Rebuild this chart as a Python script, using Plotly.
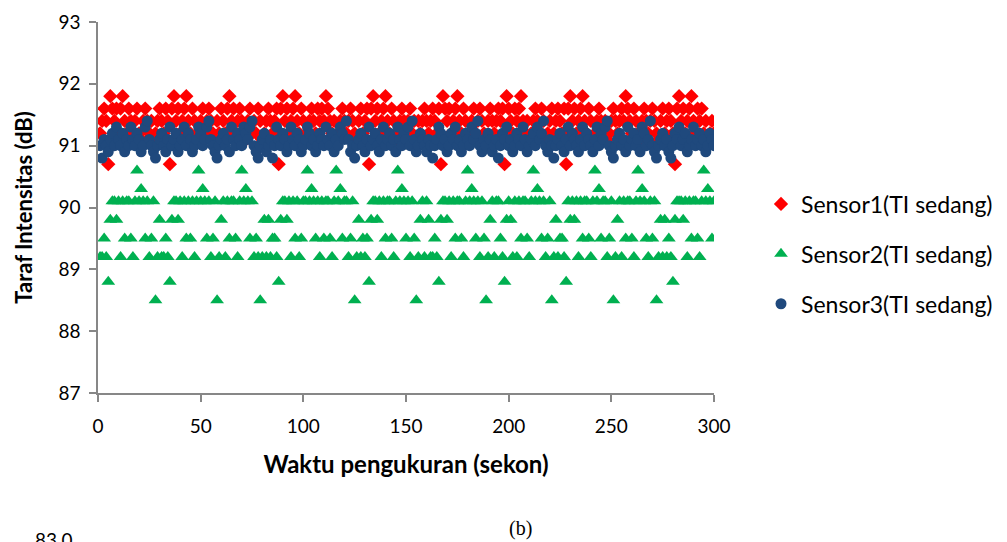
import plotly.graph_objects as go

# Measurement time (seconds)
waktu = list(range(1, 301))

# Sensor1 (TI sedang) readings, dB
sensor1 = [
    91.2, 91.4, 91.6, 91.4, 90.7, 91.8, 91.6, 91.4, 91.6, 91.2, 91.6, 91.8, 91.4, 91.2, 91.6, 91.4, 91.2, 91.4, 91.6, 91.2, 91.1, 91.4, 91.6, 91.4, 91.2, 91.4, 91.1, 91.2, 91.4, 91.6,
    91.4, 91.2, 91.6, 91.4, 90.7, 91.6, 91.8, 91.4, 91.6, 91.2, 91.4, 91.6, 91.8, 91.4, 91.2, 91.6, 91.4, 91.1, 91.2, 91.4, 91.6, 91.2, 91.4, 91.6, 91.4, 91.2, 91.1, 91.4, 91.2, 91.6,
    91.4, 91.2, 91.6, 91.8, 91.4, 91.6, 91.2, 91.4, 91.6, 91.4, 91.2, 91.1, 91.4, 91.6, 91.2, 91.4, 91.2, 91.6, 91.4, 91.1, 91.2, 91.4, 91.6, 91.4, 91.2, 91.4, 91.6, 90.7, 91.6, 91.8,
    91.4, 91.6, 91.2, 91.4, 91.6, 91.8, 91.4, 91.2, 91.6, 91.4, 91.1, 91.2, 91.4, 91.6, 91.4, 91.2, 91.6, 91.4, 91.6, 91.4, 91.8, 91.6, 91.4, 91.2, 91.4, 91.1, 91.2, 91.4, 91.6, 91.4,
    91.2, 91.4, 91.6, 91.4, 91.2, 91.1, 91.4, 91.6, 91.2, 91.4, 91.6, 90.7, 91.6, 91.8, 91.4, 91.6, 91.2, 91.4, 91.6, 91.8, 91.4, 91.2, 91.6, 91.4, 91.1, 91.2, 91.4, 91.6, 91.4, 91.2,
    91.4, 91.6, 91.2, 91.4, 91.1, 91.4, 91.2, 91.4, 91.6, 91.4, 91.2, 91.4, 91.6, 91.4, 91.2, 91.6, 90.7, 91.8, 91.6, 91.4, 91.6, 91.2, 91.4, 91.6, 91.8, 91.4, 91.2, 91.6, 91.4, 91.1,
    91.2, 91.4, 91.6, 91.2, 91.4, 91.6, 91.4, 91.2, 91.1, 91.4, 91.6, 91.4, 91.2, 91.4, 91.6, 91.4, 91.6, 90.7, 91.8, 91.6, 91.4, 91.2, 91.6, 91.4, 91.6, 91.8, 91.4, 91.2, 91.4, 91.1,
    91.2, 91.4, 91.6, 91.4, 91.2, 91.6, 91.4, 91.1, 91.2, 91.4, 91.6, 91.2, 91.4, 91.6, 91.4, 91.2, 91.6, 90.7, 91.6, 91.8, 91.4, 91.6, 91.2, 91.4, 91.6, 91.8, 91.4, 91.2, 91.6, 91.4,
    91.1, 91.2, 91.4, 91.6, 91.4, 91.2, 91.4, 91.1, 91.2, 91.4, 91.6, 91.4, 91.2, 91.4, 91.6, 91.4, 91.8, 91.6, 91.4, 91.2, 91.6, 91.4, 91.2, 91.1, 91.4, 91.6, 91.4, 91.2, 91.4, 91.6,
    91.4, 91.2, 91.1, 91.4, 91.6, 91.2, 91.4, 91.6, 91.4, 91.2, 90.7, 91.6, 91.8, 91.4, 91.6, 91.2, 91.4, 91.6, 91.8, 91.4, 91.2, 91.6, 91.4, 91.6, 91.2, 91.4, 91.1, 91.2, 91.4, 91.2,
]

# Sensor2 (TI sedang) readings, dB
sensor2 = [
    89.2, 89.2, 89.5, 89.2, 88.8, 89.8, 90.1, 90.1, 89.8, 90.1, 89.2, 90.1, 89.5, 90.1, 90.1, 89.5, 89.2, 90.1, 90.6, 90.1, 90.3, 90.1, 89.5, 90.1, 89.2, 89.5, 90.1, 88.5, 89.2, 89.8,
    89.2, 89.2, 89.5, 89.2, 88.8, 89.8, 90.1, 90.1, 89.8, 90.1, 89.2, 90.1, 89.5, 90.1, 89.5, 90.1, 89.2, 90.1, 90.6, 90.1, 90.3, 90.1, 89.5, 90.1, 89.2, 89.5, 90.1, 88.5, 89.2, 89.8,
    90.1, 89.2, 90.1, 89.5, 90.1, 90.1, 89.5, 89.2, 90.1, 90.6, 90.1, 90.3, 90.1, 89.5, 90.1, 89.2, 89.5, 89.2, 88.5, 89.2, 89.8, 89.2, 89.8, 89.2, 89.5, 89.5, 89.2, 88.8, 89.8, 90.1,
    90.1, 89.8, 90.1, 89.2, 90.1, 89.5, 90.1, 89.2, 89.5, 90.1, 90.1, 90.6, 90.1, 90.3, 90.1, 89.5, 90.1, 89.2, 90.1, 89.5, 90.1, 90.1, 89.5, 89.2, 90.1, 90.6, 90.1, 90.3, 89.5, 90.1,
    90.1, 89.2, 89.5, 90.1, 88.5, 89.2, 89.8, 89.2, 89.5, 89.2, 89.5, 88.8, 89.8, 90.1, 90.1, 89.8, 90.1, 89.2, 90.1, 89.5, 90.1, 90.1, 89.5, 89.2, 90.1, 90.6, 90.1, 90.3, 90.1, 89.5,
    90.1, 89.2, 90.1, 89.5, 88.5, 89.2, 89.8, 90.1, 89.2, 90.1, 89.8, 89.2, 89.2, 89.5, 89.2, 88.8, 89.8, 90.1, 90.1, 89.8, 90.1, 89.2, 90.1, 89.5, 90.1, 90.1, 89.5, 89.2, 90.1, 90.6,
    90.1, 90.3, 90.1, 89.5, 90.1, 89.2, 90.1, 89.5, 88.5, 89.2, 89.8, 90.1, 89.2, 90.1, 90.1, 89.5, 89.2, 88.8, 89.8, 90.1, 89.8, 89.2, 90.1, 89.2, 90.1, 89.5, 90.1, 90.1, 89.5, 89.2,
    90.1, 90.6, 90.1, 90.3, 90.1, 89.5, 90.1, 89.2, 89.5, 90.1, 88.5, 89.2, 89.8, 89.2, 89.5, 89.5, 89.2, 88.8, 90.1, 89.8, 90.1, 89.8, 90.1, 89.2, 90.1, 89.5, 90.1, 90.1, 89.5, 89.2,
    90.1, 90.6, 90.1, 90.3, 89.5, 90.1, 90.1, 89.2, 89.5, 90.1, 88.5, 89.2, 89.8, 90.1, 89.2, 90.1, 89.5, 90.1, 90.1, 89.5, 89.2, 90.1, 90.6, 90.1, 90.3, 90.1, 89.5, 89.2, 90.1, 89.5,
    90.1, 88.5, 89.2, 89.8, 89.2, 89.8, 89.2, 89.5, 89.2, 88.8, 89.8, 90.1, 90.1, 90.1, 89.8, 90.1, 89.2, 90.1, 89.5, 90.1, 90.1, 89.5, 89.2, 90.1, 90.6, 90.1, 90.3, 90.1, 89.5, 90.1,
]

# Sensor3 (TI sedang) readings, dB
sensor3 = [
    91.0, 90.8, 91.1, 91.0, 90.9, 91.1, 91.2, 91.0, 91.3, 91.1, 91.0, 91.2, 90.9, 91.1, 91.0, 91.3, 91.1, 91.0, 91.2, 91.1, 90.9, 91.0, 91.3, 91.4, 91.1, 91.0, 90.9, 90.8, 91.0, 91.1,
    91.2, 91.0, 90.9, 91.1, 91.3, 91.0, 91.1, 91.2, 90.9, 91.0, 91.1, 91.3, 91.0, 91.2, 91.1, 90.9, 91.0, 91.1, 91.3, 91.2, 91.0, 91.1, 91.3, 91.4, 91.1, 91.0, 90.9, 90.8, 91.0, 91.1,
    91.2, 91.0, 91.1, 90.9, 91.3, 91.1, 91.0, 91.2, 91.1, 91.0, 91.3, 91.2, 91.1, 91.3, 91.4, 91.0, 90.9, 90.8, 91.0, 91.1, 91.2, 90.9, 91.0, 91.1, 90.8, 91.0, 91.3, 91.1, 91.0, 91.2,
    91.1, 90.9, 91.0, 91.3, 91.1, 91.0, 91.2, 91.1, 90.9, 91.0, 91.1, 91.3, 91.2, 91.0, 91.1, 90.9, 91.0, 91.2, 91.1, 91.0, 91.3, 91.1, 91.0, 91.2, 90.9, 91.1, 91.0, 91.3, 91.2, 91.1,
    91.4, 91.1, 90.9, 91.0, 90.8, 91.0, 91.1, 91.2, 91.0, 90.9, 91.1, 91.3, 91.0, 91.1, 91.2, 91.0, 90.9, 91.1, 91.3, 91.0, 91.1, 91.2, 91.0, 91.1, 90.9, 91.3, 91.1, 91.0, 91.2, 91.1,
    91.3, 91.0, 91.4, 91.1, 90.9, 91.0, 91.2, 91.1, 91.0, 90.9, 91.1, 91.0, 90.8, 91.0, 91.1, 91.3, 91.2, 91.0, 91.1, 90.9, 91.0, 91.2, 91.1, 91.3, 91.0, 91.1, 90.9, 91.0, 91.2, 91.1,
    91.0, 91.3, 91.1, 91.2, 91.4, 91.0, 90.9, 91.1, 91.0, 91.2, 91.1, 90.9, 91.0, 91.1, 90.8, 91.0, 91.2, 91.1, 91.3, 91.0, 91.1, 90.9, 91.0, 91.2, 91.1, 91.0, 91.3, 91.1, 90.9, 91.0,
    91.1, 91.2, 91.0, 91.3, 91.1, 91.2, 91.4, 91.0, 90.9, 91.1, 91.0, 90.8, 91.0, 91.1, 91.2, 91.0, 90.9, 91.1, 91.3, 91.0, 91.2, 91.1, 91.0, 90.9, 91.1, 91.3, 91.0, 91.2, 91.1, 91.0,
    90.9, 91.1, 91.3, 91.0, 91.2, 91.1, 91.3, 91.4, 91.0, 90.9, 90.8, 91.0, 91.1, 91.2, 91.0, 91.1, 90.9, 91.3, 91.0, 91.1, 91.2, 91.0, 91.1, 90.9, 91.3, 91.2, 91.0, 91.1, 91.4, 91.0,
    90.9, 90.8, 91.0, 91.1, 91.2, 91.0, 91.1, 90.9, 90.8, 91.0, 91.2, 91.1, 91.3, 91.0, 91.1, 91.2, 90.9, 91.0, 91.1, 91.3, 91.0, 91.1, 91.2, 91.0, 91.1, 90.9, 91.0, 91.2, 91.1, 91.0,
]

FONT = "Lato"
AXIS_GREY = "#878787"

fig = go.Figure()
fig.add_trace(go.Scatter(
    x=waktu, y=sensor1, mode="markers", name="Sensor1(TI sedang)",
    legendgroup="s1",
    marker=dict(symbol="diamond", size=11, color="#FF0000", line=dict(width=0)),
))
fig.add_trace(go.Scatter(
    x=waktu, y=sensor2, mode="markers", name="Sensor2(TI sedang)",
    legendgroup="s2",
    marker=dict(symbol="triangle-up", size=12, color="#00B050", line=dict(width=0)),
))
fig.add_trace(go.Scatter(
    x=waktu, y=sensor3, mode="markers", name="Sensor3(TI sedang)",
    legendgroup="s3",
    marker=dict(symbol="circle", size=11, color="#1F497D", line=dict(width=0)),
))

L, R, T, B = 98, 293, 22, 149
PW, PH = 1007 - L - R, 542 - T - B


def px(xp):
    return (xp - L) / PW


def py(yp):
    return (542 - B - yp) / PH


fig.update_layout(
    width=1007, height=542,
    margin=dict(l=L, r=R, t=T, b=B, autoexpand=False),
    paper_bgcolor="white", plot_bgcolor="white",
    font=dict(family=FONT, size=19, color="#000000"),
    showlegend=True,
    legend=dict(
        x=px(761), y=py(254), xanchor="left", yanchor="middle",
        traceorder="grouped", tracegroupgap=17,
        font=dict(family=FONT, size=23, color="#000000"),
        bgcolor="rgba(0,0,0,0)", itemwidth=30,
    ),
    xaxis=dict(
        range=[0, 300], tickvals=[0, 50, 100, 150, 200, 250, 300],
        showgrid=False, zeroline=False,
        showline=True, linecolor=AXIS_GREY, linewidth=1.5,
        ticks="outside", ticklen=7, tickcolor=AXIS_GREY, tickwidth=1.5,
        ticklabelstandoff=8,
        tickfont=dict(family=FONT, size=19),
        title=dict(text="<b>Waktu pengukuran (sekon)</b>", standoff=21,
                   font=dict(family=FONT, size=24)),
    ),
    yaxis=dict(
        range=[87, 93], tickvals=[87, 88, 89, 90, 91, 92, 93],
        showgrid=False, zeroline=False,
        showline=True, linecolor=AXIS_GREY, linewidth=1.5,
        ticks="outside", ticklen=7, tickcolor=AXIS_GREY, tickwidth=1.5,
        ticklabelstandoff=5,
        tickfont=dict(family=FONT, size=19),
        title=dict(text="<b>Taraf Intensitas (dB)</b>", standoff=20,
                   font=dict(family=FONT, size=22)),
    ),
    annotations=[
        dict(text="(b)", x=px(520), y=py(528), xref="paper", yref="paper",
             xanchor="center", yanchor="middle", showarrow=False,
             font=dict(family="Liberation Serif", size=20, color="#000000")),
        dict(text="83.0", x=px(54), y=py(526), xref="paper", yref="paper",
             xanchor="center", yanchor="top", showarrow=False,
             font=dict(family=FONT, size=19, color="#000000")),
    ],
)

fig.write_html("out.html")
